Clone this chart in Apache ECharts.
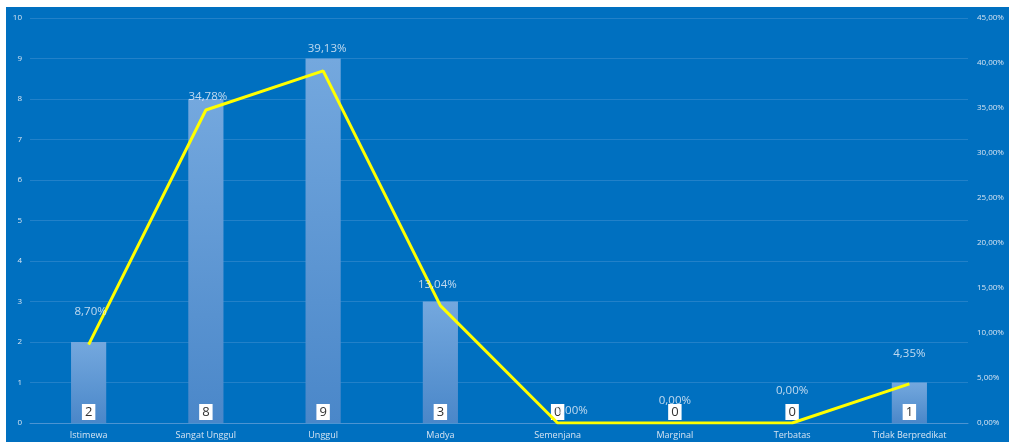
<!DOCTYPE html>
<html><head><meta charset="utf-8">
<script src="https://cdn.jsdelivr.net/npm/echarts@6/dist/echarts.min.js"></script>
<style>html,body{margin:0;padding:0;background:#fff}#c{width:1009px;height:442px}</style>
</head><body><div id="c"></div>
<script>
const categories = ["Istimewa","Sangat Unggul","Unggul","Madya","Semenjana","Marginal","Terbatas","Tidak Berpredikat"];
const counts = [2, 8, 9, 3, 0, 0, 0, 1];
const percents = [8.70, 34.78, 39.13, 13.04, 0.00, 0.00, 0.00, 4.35];
const leftTicks = {min: 0, max: 10, interval: 1};
const rightTicks = {min: 0, max: 45, interval: 5};

const fmtPct = v => v.toFixed(2).replace('.', ',') + '%';
const chart = echarts.init(document.getElementById('c'), null, {renderer: 'canvas'});
const labelColor = '#D6E4F2';
// label nudges mimicking the original's auto-placed labels (dx, dy relative to default)
function pctLabelLayout(p) {
  const nudges = [[2,-10],[2,9],[4,0],[-3,2],[14,10],[0,0],[0,-10],[0,-8]];
  const n = nudges[p.dataIndex] || [0,0];
  return {dx: n[0], dy: n[1]};
}
chart.setOption({
  backgroundColor: '#ffffff',
  animation: false,
  graphic: [{type: 'rect', z: -100, silent: true, shape: {x: 6, y: 7, width: 1003, height: 435}, style: {fill: '#0070C0'}}],
  grid: {left: 30, right: 41, top: 18, bottom: 19},
  xAxis: {
    type: 'category', data: categories,
    axisLine: {lineStyle: {color: '#4C94D2', width: 1}},
    axisTick: {show: false},
    axisLabel: {color: labelColor, fontSize: 9, margin: 8, fontFamily: 'Open Sans'}
  },
  yAxis: [{
    type: 'value', min: leftTicks.min, max: leftTicks.max, interval: leftTicks.interval,
    axisLine: {show: false}, axisTick: {show: false},
    axisLabel: {color: labelColor, fontSize: 8, margin: 8, fontFamily: 'Open Sans'},
    splitLine: {lineStyle: {color: '#2281C9', width: 1}}
  }, {
    type: 'value', min: rightTicks.min, max: rightTicks.max, interval: rightTicks.interval,
    position: 'right',
    axisLine: {show: false}, axisTick: {show: false},
    axisLabel: {color: labelColor, fontSize: 8, margin: 9, fontFamily: 'Open Sans', formatter: v => fmtPct(v)},
    splitLine: {show: false}
  }],
  series: [{
    type: 'bar', data: counts, barWidth: '30%', yAxisIndex: 0,
    itemStyle: {color: new echarts.graphic.LinearGradient(0, 0, 0, 1, [
      {offset: 0, color: '#74A8DE'}, {offset: 1, color: '#4A87C9'}])},
    label: {show: true, position: 'insideBottom', distance: 3, color: '#333', fontSize: 13,
      fontFamily: 'Open Sans', backgroundColor: '#ffffff', padding: [2, 3, 1, 3]}
  }, {
    type: 'line', data: percents, yAxisIndex: 1, symbol: 'none', z: 5,
    lineStyle: {color: '#FFFF00', width: 3}
  }, {
    type: 'scatter', data: percents, yAxisIndex: 1, symbolSize: 1, z: 6, silent: true,
    itemStyle: {color: 'rgba(0,0,0,0)'},
    labelLayout: pctLabelLayout,
    label: {show: true, position: 'top', distance: 16, color: '#EEF3FA', fontSize: 11.5,
      fontFamily: 'Open Sans', formatter: p => fmtPct(p.value)}
  }]
});
</script></body></html>
